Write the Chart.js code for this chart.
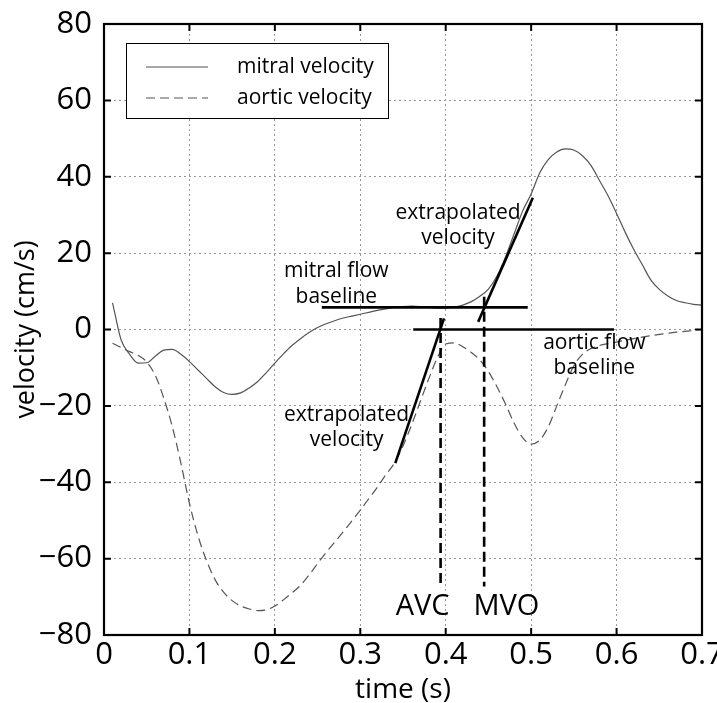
<!DOCTYPE html>
<html>
<head>
<meta charset="utf-8">
<script src="https://cdn.jsdelivr.net/npm/chart.js@4"></script>
<style>
  body { margin: 0; background: #fff; }
  canvas { display: block; }
</style>
</head>
<body>
<canvas id="chart" width="717" height="703"></canvas>
<script>
// time samples (s)
const timeS = [
  0.01, 0.02, 0.03, 0.04, 0.05, 0.06, 0.07, 0.08, 0.09, 0.10,
  0.11, 0.12, 0.13, 0.14, 0.15, 0.16, 0.17, 0.18, 0.19, 0.20,
  0.21, 0.22, 0.23, 0.24, 0.25, 0.26, 0.27, 0.28, 0.29, 0.30,
  0.31, 0.32, 0.33, 0.34, 0.35, 0.36, 0.37, 0.38, 0.39, 0.40,
  0.41, 0.42, 0.43, 0.44, 0.45, 0.46, 0.47, 0.48, 0.49, 0.50,
  0.51, 0.52, 0.53, 0.54, 0.55, 0.56, 0.57, 0.58, 0.59, 0.60,
  0.61, 0.62, 0.63, 0.64, 0.65, 0.66, 0.67, 0.68, 0.69, 0.70
];

// velocities (cm/s)
const mitralVelocity = [
  7, -2.7, -6.5, -8.8, -8.7, -7, -5.4, -5.2, -6.5, -8.4,
  -10.6, -12.8, -15, -16.5, -17, -16.6, -15.3, -13.6, -11.3, -8.8,
  -6.4, -4.2, -2.4, -0.8, 0.5, 1.5, 2.3, 3, 3.5, 4,
  4.5, 5, 5.4, 5.8, 6, 6.1, 6, 5.8, 5.6, 5.6,
  5.9, 6.4, 7.3, 8.7, 10.6, 14, 19, 25, 31, 35.5,
  41, 44.5, 46.5, 47.3, 47, 45.5, 43, 39, 35, 30.4,
  25.5, 21, 17, 13, 10.5, 8.8, 7.6, 7, 6.6, 6.4
];
const aorticVelocity = [
  -3.6, -4.7, -5.8, -6.8, -8.5, -12, -18, -25.5, -35, -45.5,
  -54, -60.5, -65.5, -68.8, -71, -72.4, -73.2, -73.6, -73.4, -72.4,
  -70.8, -69, -67, -64.3, -61.3, -58.4, -55.7, -53, -50.2, -47.3,
  -44.3, -41.3, -38, -35, -30.5, -25, -19, -13, -7.5, -3.8,
  -3.5, -4.5, -6, -8, -11, -15, -19.5, -24.5, -28.3, -30,
  -29, -25.5, -20, -14.5, -9.5, -6.5, -5, -4.2, -3.7, -3.3,
  -2.8, -2.4, -2, -1.6, -1.3, -1, -0.7, -0.5, -0.2, 0
];

// annotation segments [time, velocity]
const mitralBaseline = [[0.255, 5.8], [0.496, 5.8]];
const aorticBaseline = [[0.362, 0], [0.597, 0]];
const mitralExtrapolated = [[0.438, 2], [0.502, 34.5]];
const aorticExtrapolated = [[0.341, -35], [0.398, 2.9]];
const avcMarker = [[0.394, 3], [0.394, -67.3]];
const mvoMarker = [[0.445, 8.6], [0.445, -67.3]];

const xTicks = [0, 0.1, 0.2, 0.3, 0.4, 0.5, 0.6, 0.7];
const yTicks = [-80, -60, -40, -20, 0, 20, 40, 60, 80];

const FONT = "'Open Sans', 'DejaVu Sans', sans-serif";
const CURVE = '#555';

const toPts = (xs, ys) => xs.map((x, i) => ({ x: x, y: ys[i] }));
const segPts = seg => seg.map(p => ({ x: p[0], y: p[1] }));

// text labels anchored in data units
const notes = [
  { lines: ['mitral flow', 'baseline'], x: 0.272, y: [15.3, 8.6], size: 21 },
  { lines: ['extrapolated', 'velocity'], x: 0.4145, y: [30.5, 24], size: 21 },
  { lines: ['extrapolated', 'velocity'], x: 0.284, y: [-22.4, -28.9], size: 21 },
  { lines: ['aortic flow', 'baseline'], x: 0.574, y: [-3.5, -10.1], size: 21 },
  { lines: ['AVC'], x: 0.373, y: [-72.6], size: 29 },
  { lines: ['MVO'], x: 0.471, y: [-72.6], size: 29 }
];

const thick = (data, dash) => ({
  data: segPts(data),
  borderColor: '#000',
  borderWidth: 2.6,
  borderDash: dash || [],
  pointRadius: 0,
  tension: 0
});

const framePlugin = {
  id: 'frame',
  afterDraw(chart) {
    const { ctx, chartArea: a, scales } = chart;
    ctx.save();
    // inward tick marks on all four sides
    ctx.strokeStyle = '#000';
    ctx.lineWidth = 2;
    const tl = 7;
    xTicks.forEach(t => {
      const px = scales.x.getPixelForValue(t);
      ctx.beginPath();
      ctx.moveTo(px, a.bottom); ctx.lineTo(px, a.bottom - tl);
      ctx.moveTo(px, a.top); ctx.lineTo(px, a.top + tl);
      ctx.stroke();
    });
    yTicks.forEach(v => {
      const py = scales.y.getPixelForValue(v);
      ctx.beginPath();
      ctx.moveTo(a.left, py); ctx.lineTo(a.left + tl, py);
      ctx.moveTo(a.right, py); ctx.lineTo(a.right - tl, py);
      ctx.stroke();
    });
    ctx.lineWidth = 2.2;
    ctx.strokeRect(a.left, a.top, a.right - a.left, a.bottom - a.top);

    // legend box
    ctx.fillStyle = '#fff';
    ctx.fillRect(127, 43, 262, 75);
    ctx.lineWidth = 1;
    ctx.strokeRect(126.5, 43.5, 262, 75);
    ctx.strokeStyle = CURVE;
    ctx.lineWidth = 1.2;
    ctx.beginPath(); ctx.moveTo(146, 67); ctx.lineTo(208, 67); ctx.stroke();
    ctx.setLineDash([9, 5]);
    ctx.beginPath(); ctx.moveTo(146, 98); ctx.lineTo(208, 98); ctx.stroke();
    ctx.setLineDash([]);
    ctx.fillStyle = '#000';
    ctx.font = '21px ' + FONT;
    ctx.textAlign = 'left';
    ctx.textBaseline = 'middle';
    ctx.fillText('mitral velocity', 237, 67);
    ctx.fillText('aortic velocity', 237, 98);

    // annotations
    ctx.textAlign = 'center';
    notes.forEach(n => {
      ctx.font = n.size + 'px ' + FONT;
      const px = scales.x.getPixelForValue(n.x);
      n.lines.forEach((s, i) => {
        ctx.fillText(s, px, scales.y.getPixelForValue(n.y[i]));
      });
    });
    ctx.restore();
  }
};

new Chart(document.getElementById('chart'), {
  type: 'line',
  data: {
    datasets: [
      thick(mitralBaseline),
      thick(aorticBaseline),
      thick(mitralExtrapolated),
      thick(aorticExtrapolated),
      thick(avcMarker, [10, 5]),
      thick(mvoMarker, [10, 5]),
      {
        label: 'mitral velocity',
        data: toPts(timeS, mitralVelocity),
        borderColor: CURVE,
        borderWidth: 1.2,
        pointRadius: 0,
        cubicInterpolationMode: 'monotone'
      },
      {
        label: 'aortic velocity',
        data: toPts(timeS, aorticVelocity),
        borderColor: CURVE,
        borderWidth: 1.2,
        borderDash: [9, 5],
        pointRadius: 0,
        cubicInterpolationMode: 'monotone'
      }
    ]
  },
  options: {
    responsive: false,
    animation: false,
    layout: { padding: { top: 24, right: 15, left: 0, bottom: 0 } },
    plugins: { legend: { display: false }, tooltip: { enabled: false } },
    scales: {
      x: {
        type: 'linear',
        min: 0,
        max: 0.7,
        afterBuildTicks: s => { s.ticks = xTicks.map(v => ({ value: v })); },
        afterFit: s => { s.height = 68; s.paddingLeft = 0; s.paddingRight = 0; },
        grid: { color: '#999', lineWidth: 1, drawTicks: false },
        border: { display: false, dash: [2, 3] },
        ticks: {
          color: '#000',
          padding: 2,
          maxRotation: 0,
          font: { family: FONT, size: 31 },
          callback: v => (Math.abs(v) < 1e-9 ? '0' : v.toFixed(1))
        },
        title: {
          display: true,
          text: 'time (s)',
          color: '#000',
          font: { family: FONT, size: 28, lineHeight: 1 },
          padding: { top: 0, bottom: -1 }
        }
      },
      y: {
        min: -80,
        max: 80,
        afterBuildTicks: s => { s.ticks = yTicks.map(v => ({ value: v })); },
        afterFit: s => { s.width = 104; s.paddingTop = 0; s.paddingBottom = 0; },
        grid: { color: '#999', lineWidth: 1, drawTicks: false },
        border: { display: false, dash: [2, 3] },
        ticks: {
          color: '#000',
          padding: 12,
          font: { family: FONT, size: 31 },
          callback: v => String(v).replace('-', '\u2212')
        },
        title: {
          display: true,
          text: 'velocity (cm/s)',
          color: '#000',
          font: { family: FONT, size: 27, lineHeight: 1 },
          padding: { top: 13, bottom: 0 }
        }
      }
    }
  },
  plugins: [framePlugin]
});
</script>
</body>
</html>
